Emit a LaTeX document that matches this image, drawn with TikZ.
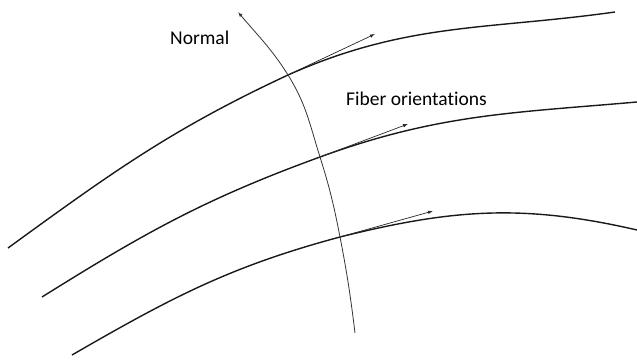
\documentclass[tikz,border=0pt]{standalone}
\usepackage{fontspec}
\setmainfont{Carlito}[RawFeature={-liga;-clig;-dlig}]
\usetikzlibrary{arrows.meta}
\begin{document}
\begin{tikzpicture}[x=1pt,y=1pt,
  fiber/.style={line width=1.4pt, color=black!90},
  normalline/.style={line width=0.8pt, color=black!80, -{Latex[length=5pt,width=3.5pt]}},
  orient/.style={line width=0.7pt, color=black!85, -{Latex[length=5pt,width=3.5pt]}},
  lbl/.style={font=\fontsize{19.5}{22}\selectfont, inner sep=0pt, anchor=base west}]
\useasboundingbox (0,0) rectangle (637,359);
% curve points
\coordinate (a0) at (8,111);
\coordinate (p1) at (288,284);
\coordinate (a1) at (615,347);
\coordinate (b0) at (42,62);
\coordinate (p2) at (320,202);
\coordinate (b1) at (637,257);
\coordinate (c0) at (72,4);
\coordinate (p3) at (340,122);
\coordinate (c1) at (637,129);
\coordinate (n0) at (355,26);
\coordinate (n1) at (238,347);
\coordinate (f1) at (375,325);
\coordinate (f2) at (408,235);
\coordinate (f3) at (433,148);
% fibres
\draw[fiber] (a0) to[out=36,in=205] (p1) to[out=24,in=188] (a1);
\draw[fiber] (b0) to[out=32,in=200] (p2) to[out=20,in=185] (b1);
\draw[fiber] (c0) to[out=30,in=195] (p3) to[out=14,in=167] (c1);
% normal
\draw[normalline] (n0) to[out=97,in=-79] (p3) to[out=101,in=-72.5] (p2)
  to[out=107.5,in=-58] (p1) to[out=122,in=-50] (n1);
% orientations
\draw[orient] (p1) -- (f1);
\draw[orient] (p2) -- (f2);
\draw[orient] (p3) -- (f3);
% labels
\node[lbl] (lnormal) at (170,314) {Normal};
\node[lbl] (lfiber) at (346,253.3) {Fiber orientations};
\end{tikzpicture}
\end{document}
